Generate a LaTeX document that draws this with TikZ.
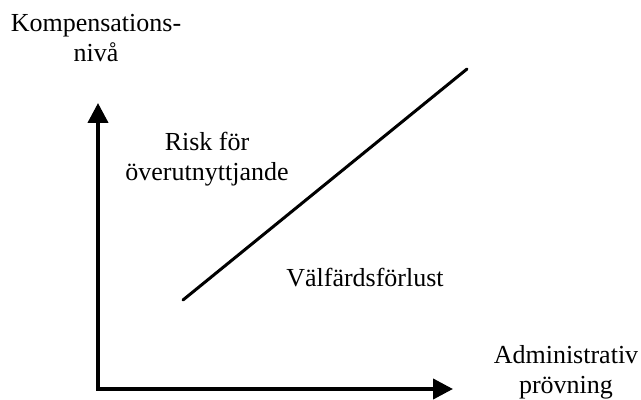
\documentclass[tikz,border=0pt]{standalone}
\usepackage{fontspec}
\setmainfont{Liberation Serif}
\usetikzlibrary{arrows.meta}

\begin{document}
\begin{tikzpicture}[x=0.5pt,y=0.5pt,
    axis/.style={line width=2pt,{Triangle[length=10pt,width=10pt]}-{Triangle[length=10pt,width=10pt]}},
    lbl/.style={align=center,anchor=base,inner sep=0pt,font=\fontsize{13}{15}\selectfont}]
        \useasboundingbox (0,0) rectangle (641,400);
        \coordinate (origo) at (98,11);
        \coordinate (ytip) at (98,297);
        \coordinate (xtip) at (453,11);
        \coordinate (lstart) at (183,100);
        \coordinate (lend) at (467,331);
        \draw[axis] (ytip) -- (origo) -- (xtip);
        \draw[line width=1.5pt,line cap=round] (lstart) -- (lend);
        % base anchor sits on the last line
        \node[lbl] (kompniva) at (96,338) {Kompensations-\\niv\aa};
        \node[lbl] (risk) at (207,219) {Risk f\"or\\\"overutnyttjande};
        \node[lbl] (valfard) at (365,113) {V\"alf\"ardsf\"orlust};
        \node[lbl] (admprov) at (566,6) {Administrativ\\pr\"ovning};
\end{tikzpicture}
\end{document}
